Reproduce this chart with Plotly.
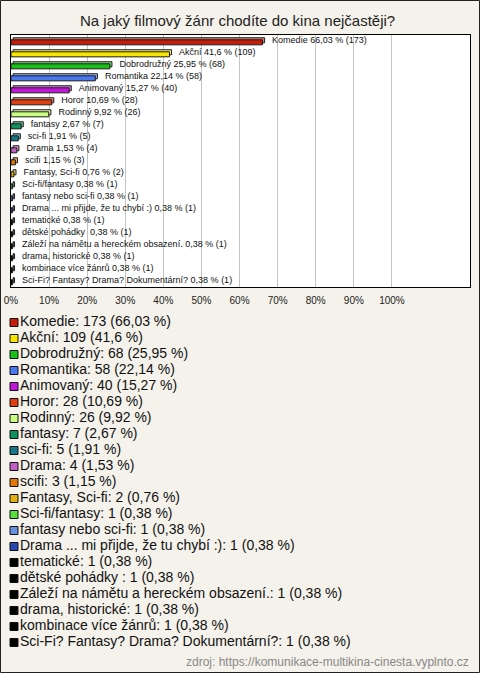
import plotly.graph_objects as go

# ---------------- data ----------------
categories = [
    "Komedie", "Akční", "Dobrodružný", "Romantika", "Animovaný", "Horor",
    "Rodinný", "fantasy", "sci-fi", "Drama", "scifi", "Fantasy, Sci-fi",
    "Sci-fi/fantasy", "fantasy nebo sci-fi", "Drama ... mi přijde, že tu chybí :)",
    "tematické", "dětské pohádky ", "Záleží na námětu a hereckém obsazení.",
    "drama, historické", "kombinace více žánrů",
    "Sci-Fi? Fantasy? Drama? Dokumentární?",
]
counts = [173, 109, 68, 58, 40, 28, 26, 7, 5, 4, 3, 2, 1, 1, 1, 1, 1, 1, 1, 1, 1]
percents = [66.03, 41.6, 25.95, 22.14, 15.27, 10.69, 9.92, 2.67, 1.91, 1.53,
            1.15, 0.76, 0.38, 0.38, 0.38, 0.38, 0.38, 0.38, 0.38, 0.38, 0.38]
colors = [
    "#c41e0a", "#f8e600", "#18c018", "#4a78f0", "#c018d8", "#e04010",
    "#c8ff80", "#10905a", "#187888", "#c060c0", "#e07808", "#e0b010",
    "#58e040", "#6890e0", "#2848b0", "#000000", "#000000", "#000000",
    "#000000", "#000000", "#000000",
]
tick_values = [0, 10, 20, 30, 40, 50, 60, 70, 80, 90, 100]
tick_labels = ["0%", "10%", "20%", "30%", "40%", "50%", "60%", "70%", "80%", "90%", "100%"]

title = "Na jaký filmový žánr chodíte do kina nejčastěji?"
source = "zdroj: https://komunikace-multikina-cinesta.vyplnto.cz"

# ---------------- helpers ----------------
def lighten(hex_color, amt=0.45):
    h = hex_color.lstrip("#")
    r, g, b = (int(h[i:i + 2], 16) for i in (0, 2, 4))
    r = int(r + (255 - r) * amt)
    g = int(g + (255 - g) * amt)
    b = int(b + (255 - b) * amt)
    return f"#{r:02x}{g:02x}{b:02x}"

def fmt(p):
    return str(p).replace(".", ",")

W, H = 480, 673
FONT = "Liberation Sans, Arial, sans-serif"
BG = "#f4f2eb"
DEPTH = 0.55  # pseudo-3D depth in axis units
PAD = "\u00a0\u00a0\u00a0"

bar_text = [f"{PAD}{c} {fmt(p)} % ({n})" for c, p, n in zip(categories, percents, counts)]
legend_text = [f"{c}: {n} ({fmt(p)} %)" for c, p, n in zip(categories, percents, counts)]

fig = go.Figure()

# back (top face) bar
fig.add_trace(go.Bar(
    y=categories, x=percents, base=DEPTH, orientation="h",
    width=0.42, offset=-0.27,
    marker=dict(color=[lighten(c) for c in colors], line=dict(color="#1a1a1a", width=1)),
    text=bar_text, textposition="outside", constraintext="none", cliponaxis=False,
    textfont=dict(family=FONT, size=9, color="#111"),
    showlegend=False, hoverinfo="skip",
))
# front bar
fig.add_trace(go.Bar(
    y=categories, x=percents, orientation="h",
    width=0.42, offset=-0.10,
    marker=dict(color=colors, line=dict(color="#1a1a1a", width=1)),
    showlegend=False,
))

# legend drawn as a second subplot
fig.add_trace(go.Scatter(
    x=[3] * len(categories), y=categories, xaxis="x2", yaxis="y2",
    mode="markers+text",
    marker=dict(symbol="square", size=8, color=colors, line=dict(color="#111", width=1)),
    text=legend_text, textposition="middle right",
    textfont=dict(family=FONT, size=14, color="#111"),
    showlegend=False, hoverinfo="skip", cliponaxis=False,
))

xdom = [11 / W, 470 / W]
fig.update_layout(
    width=W, height=H,
    template="none",
    margin=dict(l=0, r=0, t=0, b=0),
    paper_bgcolor=BG,
    plot_bgcolor="rgba(0,0,0,0)",
    barmode="overlay",
    font=dict(family=FONT, color="#222"),
    title=dict(text=title, x=0.495, xanchor="center", y=1 - 21 / H, yanchor="middle",
               yref="container", font=dict(family=FONT, size=15, color="#222")),
    xaxis=dict(domain=xdom, range=[0, 120.5], tickvals=tick_values, ticktext=tick_labels,
               showgrid=True, gridcolor="#c4c4c4", gridwidth=1, zeroline=False,
               showline=True, linecolor="#000", linewidth=1, mirror=True,
               ticks="", ticklabelstandoff=4, tickfont=dict(family=FONT, size=10, color="#222"),
               automargin=False, fixedrange=True),
    yaxis=dict(domain=[1 - 287 / H, 1 - 35 / H], type="category",
               categoryorder="array", categoryarray=categories, range=[20.5, -0.5],
               showticklabels=False, showgrid=False, zeroline=False,
               showline=True, linecolor="#000", linewidth=1, mirror=True,
               automargin=False, fixedrange=True),
    xaxis2=dict(domain=xdom, range=[0, 459], visible=False, anchor="y2", fixedrange=True),
    yaxis2=dict(domain=[1 - 650.5 / H, 1 - 314.5 / H], type="category",
                categoryorder="array", categoryarray=categories, range=[20.5, -0.5],
                visible=False, anchor="x2", fixedrange=True),
    shapes=[
        dict(type="rect", xref="paper", yref="paper",
             x0=0.5 / W, x1=1 - 0.5 / W, y0=0.5 / H, y1=1 - 0.5 / H,
             line=dict(color="#222", width=1), layer="below"),
        dict(type="rect", xref="x domain", yref="y domain", x0=0, x1=1, y0=0, y1=1,
             fillcolor="#ffffff", line=dict(width=0), layer="below"),
    ],
    annotations=[dict(text=source, xref="paper", yref="paper", x=471 / W, y=1 - 662 / H,
                      xanchor="right", yanchor="middle", showarrow=False,
                      font=dict(family=FONT, size=12, color="#888"))],
)

fig.write_html(
    "out.html",
    config={"displayModeBar": False},
    post_script="document.body.style.margin='0';document.body.style.padding='0';",
)
